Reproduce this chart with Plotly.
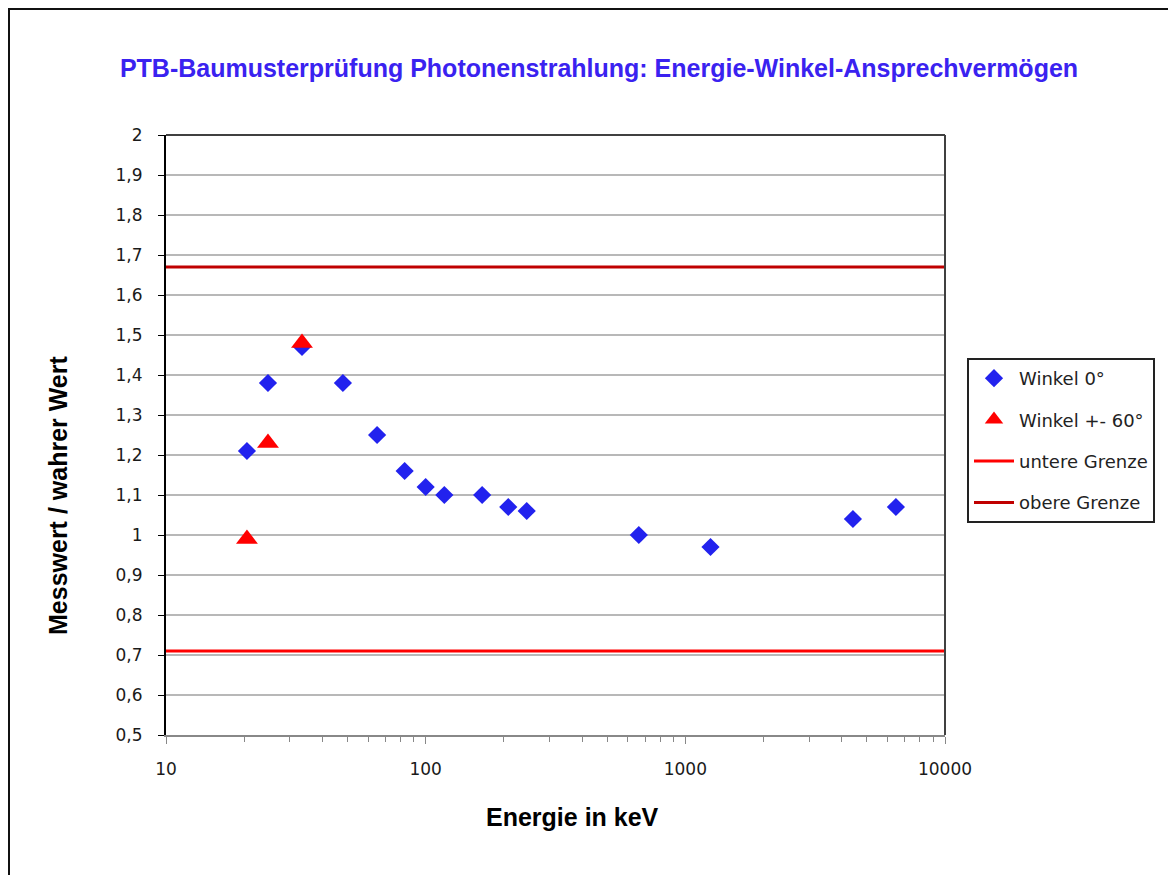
import plotly.graph_objects as go

# Data
energy_0deg = [20.5, 24.7, 33.4, 48, 65, 83, 100, 118, 165, 208, 245, 662, 1250, 4420, 6470]
response_0deg = [1.21, 1.38, 1.47, 1.38, 1.25, 1.16, 1.12, 1.10, 1.10, 1.07, 1.06, 1.00, 0.97, 1.04, 1.07]

energy_60deg = [20.5, 24.7, 33.4]
response_60deg = [0.99, 1.23, 1.48]

limit_x = [10, 10000]
lower_limit = [0.71, 0.71]
upper_limit = [1.67, 1.67]

y_tickvals = [0.5, 0.6, 0.7, 0.8, 0.9, 1.0, 1.1, 1.2, 1.3, 1.4, 1.5, 1.6, 1.7, 1.8, 1.9, 2.0]
y_ticktext = ["0,5", "0,6", "0,7", "0,8", "0,9", "1", "1,1", "1,2", "1,3", "1,4", "1,5",
              "1,6", "1,7", "1,8", "1,9", "2"]
x_tickvals = [10, 100, 1000, 10000]
x_ticktext = ["10", "100", "1000", "10000"]
x_minor = [m * d for d in (10, 100, 1000) for m in range(2, 10)]

W, H = 1168, 867
L, T, PW, PH = 158, 127, 779, 600
# page offsets (body margin 8px): plot area at page x=166..945, y=135..735
PX0, PY1 = 166, 735


def px_x(p):
    return (p - PX0) / PW


def px_y(p):
    return (PY1 - p) / PH


fig = go.Figure()

fig.add_trace(go.Scatter(
    x=energy_0deg, y=response_0deg, mode="markers", name="Winkel 0°",
    legendgroup="a",
    marker=dict(symbol="diamond", size=14, color="#2222EE", line=dict(width=0)),
))
fig.add_trace(go.Scatter(
    x=energy_60deg, y=response_60deg, mode="markers", name="Winkel +- 60°",
    legendgroup="b",
    marker=dict(symbol="triangle-up", size=19, color="#FF0000", line=dict(width=0)),
))
fig.add_trace(go.Scatter(
    x=limit_x, y=lower_limit, mode="lines", name="untere Grenze",
    legendgroup="c",
    line=dict(color="#FF0000", width=3),
))
fig.add_trace(go.Scatter(
    x=limit_x, y=upper_limit, mode="lines", name="obere Grenze",
    legendgroup="d",
    line=dict(color="#C00000", width=3),
))

tick_font = dict(family="DejaVu Sans", size=17, color="#1a1a1a")
axis_title_font = dict(family="Liberation Sans", size=25, color="black", weight="bold")

fig.update_layout(
    width=W, height=H,
    margin=dict(l=L, r=W - L - PW, t=T, b=H - T - PH),
    paper_bgcolor="white", plot_bgcolor="white",
    showlegend=True,
    title=dict(
        text="PTB-Baumusterprüfung Photonenstrahlung: Energie-Winkel-Ansprechvermögen",
        x=591 / W, xanchor="center", y=1 - 60 / H, yanchor="middle",
        font=dict(family="Liberation Sans", size=25, color="#3A22F0", weight="bold"),
    ),
    xaxis=dict(
        type="log", range=[1, 4],
        tickmode="array", tickvals=x_tickvals, ticktext=x_ticktext,
        ticks="outside", ticklen=7, tickcolor="#888888", tickwidth=1,
        minor=dict(tickmode="array", tickvals=x_minor, ticks="outside", ticklen=5,
                   tickcolor="#888888", tickwidth=1, showgrid=False),
        showgrid=False, zeroline=False,
        showline=True, linecolor="#888888", linewidth=2,
        tickfont=tick_font, ticklabelstandoff=11,
    ),
    yaxis=dict(
        range=[0.5, 2.0],
        tickmode="array", tickvals=y_tickvals, ticktext=y_ticktext,
        ticks="outside", ticklen=6, tickcolor="black", tickwidth=1,
        showgrid=True, gridcolor="#B8B8B8", gridwidth=2,
        zeroline=False,
        showline=True, linecolor="black", linewidth=2,
        tickfont=tick_font, ticklabelstandoff=12,
    ),
    legend=dict(
        x=px_x(967), xanchor="left",
        y=px_y(358), yanchor="top",
        bgcolor="white", bordercolor="#222222", borderwidth=2,
        font=dict(family="DejaVu Sans", size=18, color="#222222"),
        tracegroupgap=15, itemwidth=40,
    ),
    annotations=[
        dict(text="Energie in keV", xref="paper", yref="paper",
             x=px_x(572), y=px_y(817), xanchor="center", yanchor="middle",
             showarrow=False, font=axis_title_font),
        dict(text="Messwert / wahrer Wert", xref="paper", yref="paper",
             x=px_x(58), y=px_y(496), xanchor="center", yanchor="middle",
             textangle=-90, showarrow=False, font=axis_title_font),
    ],
    shapes=[
        # top and right frame of the plot area
        dict(type="line", xref="paper", yref="paper", x0=0, x1=1, y0=1, y1=1,
             line=dict(color="#404040", width=2)),
        dict(type="line", xref="paper", yref="paper", x0=1, x1=1, y0=0, y1=1,
             line=dict(color="#404040", width=2)),
        # outer chart border
        dict(type="rect", xref="paper", yref="paper",
             x0=(-L + 1) / PW, x1=(W - L + 20) / PW,
             y0=(-(H - T - PH) - 20) / PH, y1=(PH + T - 1) / PH,
             line=dict(color="#111111", width=2)),
    ],
)

fig.write_html("out.html")
